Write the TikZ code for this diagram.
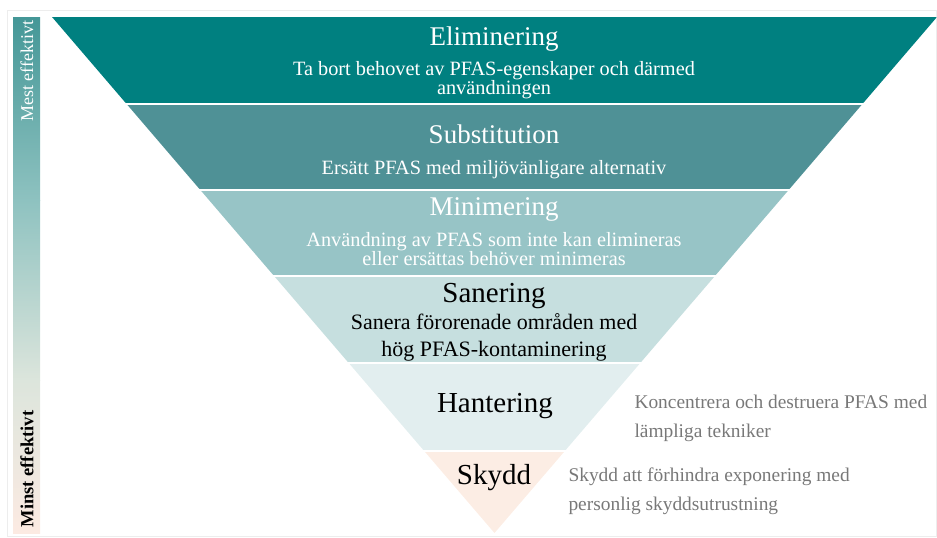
\documentclass[tikz,border=0pt]{standalone}
\usepackage{fontspec}
\setmainfont{Liberation Serif}
\usetikzlibrary{positioning}

% band colours, darkest at the top
\definecolor{elim}{HTML}{008080}
\definecolor{subst}{HTML}{4F9196}
\definecolor{mini}{HTML}{97C4C6}
\definecolor{sane}{HTML}{C6DFDF}
\definecolor{hant}{HTML}{E2EEEF}
\definecolor{skydd}{HTML}{FCEDE4}
\definecolor{note}{HTML}{787878}
% colours along the side bar
\definecolor{barA}{HTML}{449797}
\definecolor{barB}{HTML}{8EC2C0}
\definecolor{barC}{HTML}{DCE5DC}
\definecolor{barD}{HTML}{FCEAE2}

\begin{document}
\begin{tikzpicture}[x=1pt,y=-1pt,
    title/.style={font=\fontsize{27}{29}\selectfont},
    lowtitle/.style={font=\fontsize{29}{31}\selectfont},
    blurb/.style={font=\fontsize{20.3}{18}\selectfont,align=center},
    lowblurb/.style={font=\fontsize{22}{27}\selectfont,align=center},
    side/.style={font=\fontsize{19.4}{29}\selectfont,align=left,text=note,anchor=west}]
    \useasboundingbox (0,0) rectangle (937,538);
    \draw[black!7] (7,10) rectangle (936,536);

    % side bar, teal down to peach
    \shade[top color=barA,bottom color=barB] (13,17) rectangle (40,200.5);
    \shade[top color=barB,bottom color=barC] (13,200) rectangle (40,380.5);
    \shade[top color=barC,bottom color=barD] (13,380) rectangle (40,533);
    \node[rotate=90,text=white,font=\fontsize{18}{18}\selectfont] (mest) at (27,71) {Mest effektivt};
    \node[rotate=90,font=\bfseries\fontsize{18.5}{18}\selectfont] (minst) at (27,469) {Minst effektivt};

    % the funnel, cut into bands
    \begin{scope}
        \clip (52,17) -- (937,17) -- (494.5,533) -- cycle;
        \foreach \ytop/\ybot/\col in {17/102.5/elim, 104.5/188.5/subst, 190.5/274.5/mini,
                                      276.5/362/sane, 364/449.5/hant, 451.5/533/skydd}
            \fill[\col] (45,\ytop) rectangle (940,\ybot);
    \end{scope}

    \node[title,text=white] (elim) at (494,39)   {Eliminering};
    \node[blurb,text=white] (elimtxt) at (494,80) {Ta bort behovet av PFAS-egenskaper och därmed\\användningen};
    \node[title,text=white] (subst) at (494,134)  {Substitution};
    \node[blurb,text=white] (substtxt) at (494,170) {Ersätt PFAS med miljövänligare alternativ};
    \node[title,text=white] (mini) at (494,209)   {Minimering};
    \node[blurb,text=white] (minitxt) at (494,249) {Användning av PFAS som inte kan elimineras\\eller ersättas behöver minimeras};
    \node[lowtitle] (sane) at (494,296)          {Sanering};
    \node[lowblurb] (sanetxt) at (494,337)       {Sanera förorenade områden med\\hög PFAS-kontaminering};
    \node[lowtitle] (hant) at (495,406)          {Hantering};
    \node[lowtitle] (skydd) at (494,478)         {Skydd};

    \node[side] (hanttxt) at (631,418)  {Koncentrera och destruera PFAS med\\lämpliga tekniker};
    \node[side] (skyddtxt) at (565,491) {Skydd att förhindra exponering med\\personlig skyddsutrustning};
\end{tikzpicture}
\end{document}
